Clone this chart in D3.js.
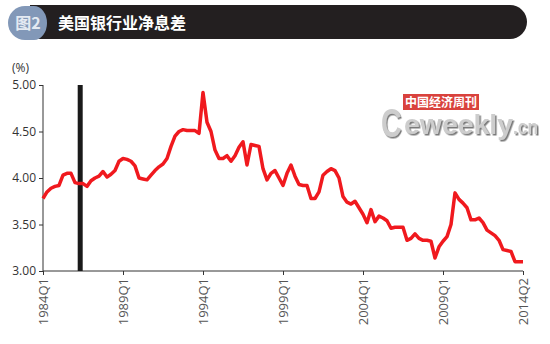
<!DOCTYPE html>
<html><head><meta charset="utf-8">
<script src="https://cdn.jsdelivr.net/npm/d3@7"></script>
<style>
html,body{margin:0;padding:0;background:#fff;}
svg{display:block;}
</style></head>
<body>
<svg id="chart" width="550" height="344"></svg>
<script>
// ---- data ----
const titleTag = "图2";
const titleText = "美国银行业净息差";
const unitLabel = "(%)";
// net interest margin, one value per quarter (index 0 = 1984Q1 tick ... 120 = last tick)
const nimValues = [
  3.78, 3.85, 3.89, 3.91, 3.92, 4.03, 4.05, 4.05, 3.95, 3.94,
  3.94, 3.91, 3.97, 4.00, 4.02, 4.07, 4.01, 4.04, 4.08, 4.18,
  4.21, 4.20, 4.18, 4.13, 4.00, 3.99, 3.98, 4.03, 4.08, 4.12,
  4.15, 4.21, 4.34, 4.45, 4.50, 4.52, 4.51, 4.51, 4.51, 4.48,
  4.92, 4.60, 4.50, 4.30, 4.21, 4.21, 4.24, 4.18, 4.24, 4.33,
  4.39, 4.14, 4.36, 4.35, 4.34, 4.10, 3.98, 4.05, 4.08, 4.00,
  3.92, 4.05, 4.14, 4.02, 3.93, 3.92, 3.92, 3.78, 3.78, 3.85,
  4.03, 4.07, 4.10, 4.08, 4.00, 3.80, 3.74, 3.72, 3.75, 3.68,
  3.61, 3.52, 3.66, 3.53, 3.59, 3.57, 3.54, 3.46, 3.47, 3.47,
  3.47, 3.33, 3.35, 3.40, 3.35, 3.33, 3.33, 3.32, 3.14, 3.26,
  3.32, 3.37, 3.50, 3.84, 3.77, 3.73, 3.68, 3.55, 3.55, 3.57,
  3.52, 3.44, 3.41, 3.38, 3.33, 3.23, 3.22, 3.21, 3.10, 3.10,
  3.10
];
const xTickIndex = [0, 20, 40, 60, 80, 100, 120];
const xTickLabels = ["1984Q1", "1989Q1", "1994Q1", "1999Q1", "2004Q1", "2009Q1", "2014Q2"];
const yTicks = [3.0, 3.5, 4.0, 4.5, 5.0];
const markerIndex = [9.3]; // black vertical marker bar

// ---- layout ----
const svg = d3.select("#chart");
const x = d3.scaleLinear().domain([0, 120]).range([43, 523]);
const y = d3.scaleLinear().domain([3, 5]).range([271, 85]);

const defs = svg.append("defs");
const f = defs.append("filter").attr("id", "wmShadow")
  .attr("x", "-10%").attr("y", "-10%").attr("width", "130%").attr("height", "140%");
f.append("feDropShadow").attr("dx", 1.5).attr("dy", 1.5).attr("stdDeviation", 0.6)
  .attr("flood-color", "#7a7a7a").attr("flood-opacity", 1);

// ---- title bar ----
const tb = svg.append("g");
tb.append("path")
  .attr("d", "M30,5 H510 A17,17 0 0 1 510,39 H30 Z")
  .attr("fill", "#231f20");
tb.append("path")
  .attr("d", "M25,6 H34 A13,17 0 0 1 34,40 H25 A17,17 0 0 1 25,6 Z")
  .attr("fill", "#8298b8");
tb.append("text").text(titleTag)
  .attr("x", 28).attr("y", 29)
  .attr("text-anchor", "middle")
  .attr("font-family", "'Noto Sans CJK SC', sans-serif")
  .attr("font-size", 16).attr("font-weight", "bold")
  .attr("fill", "#e4eaf2");
tb.append("text").text(titleText)
  .attr("x", 58).attr("y", 28.5)
  .attr("font-family", "'Noto Sans CJK SC', sans-serif")
  .attr("font-size", 16).attr("font-weight", "bold")
  .attr("fill", "#ffffff");

// ---- watermark ----
const wm = svg.append("g");
wm.append("rect").attr("x", 403).attr("y", 94).attr("width", 76).attr("height", 16)
  .attr("fill", "#d9423d");
wm.append("text").text("中国经济周刊")
  .attr("x", 441).attr("y", 106.5).attr("text-anchor", "middle")
  .attr("font-family", "'Noto Sans CJK SC', serif").attr("font-weight", "bold")
  .attr("font-size", 12).attr("fill", "#fff");
// big "C" narrowed with a transform
wm.append("text").text("C")
  .attr("transform", "translate(381,137) scale(0.72,1)")
  .attr("font-family", "'Liberation Sans', Arial, sans-serif").attr("font-weight", "bold")
  .attr("font-size", 40)
  .attr("fill", "#cdcdcd").attr("filter", "url(#wmShadow)");
const wmParts = [
  {t: "eweekly", fs: 28, len: 109},
  {t: ".cn", fs: 20, len: 25}
];
const wmText = wm.append("text")
  .attr("x", 404).attr("y", 134)
  .attr("font-family", "'Liberation Sans', Arial, sans-serif").attr("font-weight", "bold")
  .attr("fill", "#cdcdcd").attr("filter", "url(#wmShadow)");
wmText.selectAll("tspan").data(wmParts).enter().append("tspan")
  .text(p => p.t)
  .attr("font-size", p => p.fs)
  .attr("textLength", p => p.len)
  .attr("lengthAdjust", "spacingAndGlyphs");

// ---- axes ----
svg.append("text").text(unitLabel)
  .attr("x", 12).attr("y", 72)
  .attr("font-family", "'Open Sans', sans-serif").attr("font-size", 12)
  .attr("fill", "#333");

const yAxis = svg.append("g").attr("transform", "translate(43,0)")
  .call(d3.axisLeft(y).tickValues(yTicks).tickFormat(d3.format(".2f")).tickSize(4).tickPadding(3));
yAxis.select(".domain").attr("stroke", "#333").attr("d", "M0," + y(3) + "V" + y(5));
yAxis.selectAll(".tick line").attr("stroke", "#333");
yAxis.selectAll(".tick text")
  .attr("font-family", "'Open Sans', sans-serif").attr("font-size", 12).attr("fill", "#333");

const xAxis = svg.append("g").attr("transform", "translate(0,271)")
  .call(d3.axisBottom(x).tickValues(xTickIndex)
    .tickFormat((d, i) => xTickLabels[i]).tickSize(4).tickPadding(3));
xAxis.select(".domain").attr("stroke", "#333").attr("d", "M" + x(0) + ",0H" + x(120));
xAxis.selectAll(".tick line").attr("stroke", "#333");
xAxis.selectAll(".tick text")
  .attr("font-family", "'Open Sans', sans-serif").attr("font-size", 13).attr("fill", "#555")
  .attr("text-anchor", "end")
  .attr("transform", "rotate(-90)")
  .attr("x", -7).attr("y", 0).attr("dy", "0.35em");

// ---- marker bar ----
svg.selectAll("rect.marker").data(markerIndex).enter().append("rect")
  .attr("class", "marker")
  .attr("x", d => x(d) - 2.5).attr("width", 5)
  .attr("y", y(5)).attr("height", y(3) - y(5))
  .attr("fill", "#1a1a1a");

// ---- line ----
const line = d3.line().x((d, i) => x(i)).y(d => y(d));
svg.append("path").datum(nimValues)
  .attr("d", line)
  .attr("fill", "none")
  .attr("stroke", "#f0191e")
  .attr("stroke-width", 3.5)
  .attr("stroke-linejoin", "round");
</script>
</body></html>
